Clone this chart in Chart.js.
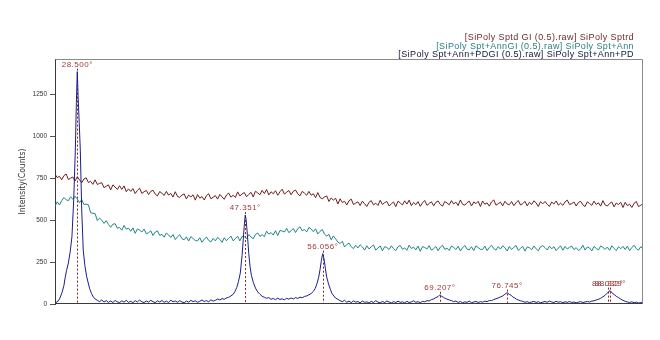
<!DOCTYPE html>
<html>
<head>
<meta charset="utf-8">
<script src="https://cdn.jsdelivr.net/npm/chart.js"></script>
<style>
html, body { margin: 0; padding: 0; background: #fff; }
#wrap { width: 660px; height: 340px; position: relative; }
</style>
</head>
<body>
<div id="wrap"><canvas id="xrdChart"></canvas></div>
<script>
// 2-theta scan grid (degrees), same for both broad scans
const thetaStart = 26
const thetaStep = 0.25

// [SiPoly Sptd GI] counts, 26.00 .. 92.00 deg
const sptdCounts = [
  774, 753, 761, 740,  765, 775, 742, 750,  757, 733, 758, 740,  723, 745, 752, 724,
  731, 713, 740, 712,  719, 723, 693, 702,  710, 680, 710, 697,  682, 705, 683, 704,
  669, 686, 671, 688,  658, 677, 690, 659,  669, 677, 652, 671,  678, 655, 644, 670,
  660, 647, 671, 649,  659, 637, 669, 641,  635, 649, 656, 626,  649, 638, 651, 619,
  652, 631, 640, 620,  646, 657, 627, 636,  646, 625, 653, 638,  624, 650, 661, 637,
  648, 635, 668, 644,  656, 664, 639, 653,  665, 638, 672, 662,  651, 677, 658, 682,
  650, 669, 657, 675,  648, 669, 684, 655,  666, 676, 651, 672,  679, 656, 645, 671,
  661, 648, 671, 648,  657, 634, 664, 635,  627, 638, 644, 611,  632, 619, 630, 596,
  627, 605, 612, 590,  615, 625, 593, 601,  609, 587, 613, 597,  581, 606, 616, 591,
  601, 587, 618, 593,  604, 611, 584, 597,  608, 580, 613, 602,  590, 615, 595, 619,
  586, 605, 592, 610,  582, 603, 617, 588,  599, 609, 585, 606,  614, 593, 583, 611,
  602, 591, 616, 596,  607, 587, 620, 594,  589, 604, 613, 584,  608, 598, 612, 581,
  614, 594, 603, 583,  609, 620, 589, 598,  607, 585, 612, 596,  592, 611, 586, 603,
  617, 590, 598, 612,  585, 606, 593, 615,  603, 581, 610, 597,  611, 594, 582, 608,
  596, 614, 589, 601,  588, 609, 619, 593,  598, 608, 584, 605,  612, 591, 581, 609,
  599, 588, 613, 593,  603, 583, 616, 590,  584, 599, 608, 579,  602, 592, 606, 575,
  606, 586, 595, 575,  600, 611, 580, 589,  597
]

// [SiPoly Spt+AnnGI] counts, 26.00 .. 92.00 deg
const sptAnnCounts = [
  582, 609, 590, 616,  635, 621, 616, 639,  624, 642, 626, 603,  622, 593, 595, 591,
  544, 541, 539, 497,  512, 499, 480, 497,  474, 457, 476, 478,  451, 456, 440, 468,
  446, 452, 433, 454,  421, 447, 440, 429,  447, 418, 425, 436,  408, 428, 436, 409,
  415, 398, 423, 412,  396, 414, 384, 401,  413, 389, 383, 400,  375, 402, 390, 378,
  376, 395, 368, 386,  399, 379, 370, 391,  376, 397, 385, 367,  395, 377, 392, 405,
  376, 390, 404, 376,  403, 401, 389, 414,  399, 389, 414, 423,  403, 413, 401, 434,
  416, 426, 411, 437,  408, 438, 435, 429,  451, 425, 436, 450,  426, 449, 460, 436,
  444, 430, 456, 447,  431, 448, 417, 433,  444, 416, 405, 415,  383, 406, 388, 369,
  360, 374, 340, 354,  363, 341, 330, 350,  334, 353, 340, 321,  347, 328, 341, 352,
  321, 334, 346, 317,  341, 337, 324, 347,  330, 318, 342, 349,  326, 334, 320, 351,
  331, 339, 322, 345,  314, 342, 337, 328,  348, 321, 330, 343,  317, 339, 350, 325,
  333, 319, 346, 338,  324, 344, 316, 335,  349, 327, 323, 341,  318, 347, 336, 326,
  325, 345, 318, 337,  350, 330, 321, 342,  327, 347, 335, 316,  343, 324, 338, 349,
  319, 332, 344, 315,  340, 336, 323, 346,  329, 317, 341, 348,  336, 322, 345, 329,
  342, 318, 333, 347,  320, 343, 328, 338,  345, 324, 336, 319,  328, 350, 321, 340,
  334, 316, 343, 331,  322, 346, 337, 325,  339, 320, 347, 332,  318, 341, 329, 344,
  325, 345, 318, 337,  350, 330, 321, 342,  327
]

// [SiPoly Spt+Ann+PDGI] as [2theta, counts]
const pdPoints = [
  [26.0,6],[26.25,12],[26.5,30],[26.6,42],[26.8,70],[27.0,110],[27.15,160],[27.3,200],[27.5,244],
  [27.7,310],[27.9,400],[28.1,620],[28.28,917],[28.4,1200],[28.5,1385],[28.6,1230],[28.72,1080],
  [28.84,917],[29.0,560],[29.17,321],[29.35,230],[29.55,165],[29.73,125],[29.9,90],[30.1,62],
  [30.3,42],[30.5,30],[30.75,22],[31.0,14],[31.25,24],[31.5,12],[31.75,20],[32.0,10],[32.25,18],
  [32.5,9],[32.75,21],[33.0,13],[33.25,8],[33.5,19],[33.75,11],[34.0,22],[34.25,10],[34.5,16],
  [34.75,8],[35.0,20],[35.25,12],[35.5,24],[35.75,13],[36.0,9],[36.25,18],[36.5,11],[36.75,22],
  [37.0,14],[37.25,8],[37.5,19],[37.75,12],[38.0,21],[38.25,10],[38.5,17],[38.75,9],[39.0,23],
  [39.25,13],[39.5,18],[39.75,10],[40.0,20],[40.25,12],[40.5,8],[40.75,17],[41.0,11],[41.25,22],
  [41.5,14],[41.75,19],[42.0,10],[42.25,16],[42.5,24],[42.75,15],[43.0,20],[43.25,13],[43.5,25],
  [43.75,17],[44.0,22],[44.25,30],[44.5,24],[44.75,32],[45.0,28],[45.25,36],[45.5,40],[45.75,48],
  [46.0,58],[46.2,75],[46.4,98],[46.6,135],[46.8,185],[47.0,290],[47.15,400],[47.25,470],
  [47.35,530],[47.45,505],[47.6,410],[47.75,300],[47.9,220],[48.05,170],[48.25,130],[48.5,95],
  [48.75,72],[49.0,58],[49.25,46],[49.5,40],[49.75,34],[50.0,38],[50.25,28],[50.5,33],[50.75,26],
  [51.0,35],[51.25,27],[51.5,31],[51.75,25],[52.0,34],[52.25,29],[52.5,36],[52.75,30],[53.0,38],
  [53.25,33],[53.5,41],[53.75,37],[54.0,45],[54.25,48],[54.5,55],[54.75,62],[55.0,75],[55.2,92],
  [55.4,120],[55.6,160],[55.75,205],[55.9,260],[56.05,300],[56.2,268],[56.35,210],[56.5,160],
  [56.7,120],[56.9,88],[57.1,62],[57.3,48],[57.5,35],[57.75,28],[58.0,20],[58.25,14],[58.5,22],
  [58.75,10],[59.0,17],[59.25,8],[59.5,19],[59.75,11],[60.0,15],[60.25,7],[60.5,18],[60.75,10],
  [61.0,13],[61.25,6],[61.5,16],[61.75,9],[62.0,20],[62.25,11],[62.5,7],[62.75,15],[63.0,9],
  [63.25,18],[63.5,12],[63.75,6],[64.0,14],[64.25,9],[64.5,17],[64.75,10],[65.0,13],[65.25,7],
  [65.5,16],[65.75,9],[66.0,12],[66.25,19],[66.5,10],[66.75,14],[67.0,8],[67.25,16],[67.5,13],
  [67.75,20],[68.0,18],[68.25,26],[68.5,30],[68.75,38],[69.0,44],[69.2,55],[69.4,46],[69.6,40],
  [69.8,33],[70.0,29],[70.25,24],[70.5,20],[70.75,14],[71.0,18],[71.25,9],[71.5,15],[71.75,7],
  [72.0,13],[72.25,10],[72.5,17],[72.75,8],[73.0,12],[73.25,15],[73.5,9],[73.75,14],[74.0,11],
  [74.25,17],[74.5,14],[74.75,21],[75.0,20],[75.25,27],[75.5,31],[75.75,36],[76.0,42],[76.25,48],
  [76.5,58],[76.75,68],[77.0,57],[77.2,52],[77.4,41],[77.6,36],[77.8,28],[78.0,24],[78.25,19],
  [78.5,16],[78.75,10],[79.0,14],[79.25,8],[79.5,12],[79.75,16],[80.0,9],[80.25,14],[80.5,7],
  [80.75,11],[81.0,15],[81.25,10],[81.5,18],[81.75,12],[82.0,9],[82.25,16],[82.5,11],[82.75,14],
  [83.0,8],[83.25,13],[83.5,10],[83.75,15],[84.0,9],[84.25,12],[84.5,7],[84.75,11],[85.0,14],
  [85.25,9],[85.5,12],[85.75,15],[86.0,12],[86.25,17],[86.5,19],[86.75,24],[87.0,28],[87.25,34],
  [87.5,43],[87.75,52],[88.0,66],[88.15,74],[88.3,80],[88.45,72],[88.6,62],[88.8,55],[89.0,46],
  [89.25,38],[89.5,29],[89.75,22],[90.0,16],[90.25,12],[90.5,9],[90.75,13],[91.0,8],[91.25,11],
  [91.5,6],[91.75,9],[92.0,7]
]

// marked peaks
const peakTheta = [28.5, 47.351, 56.056, 69.207, 76.745, 88.032, 88.329]
const peakCounts = [1385, 530, 300, 55, 68, 80, 80]
const peakLabels = ['28.500°', '47.351°', '56.056°', '69.207°', '76.745°', '88.032°', '88.329°']

const seriesNames = [
  '[SiPoly Sptd GI (0.5).raw] SiPoly Sptrd',
  '[SiPoly Spt+AnnGI (0.5).raw] SiPoly Spt+Ann',
  '[SiPoly Spt+Ann+PDGI (0.5).raw] SiPoly Spt+Ann+PD'
]
const seriesColors = ['#6e1c1c', '#1f8585', '#1c1c8c']
const legendColors = ['#6e2a2a', '#2a8080', '#14143c']

const yTickValues = [0, 250, 500, 750, 1000, 1250]
const yTitle = 'Intensity(Counts)'

const toGrid = (counts) => counts.map((c, i) => ({ x: thetaStart + i * thetaStep, y: c }))

const xrdDecor = {
  id: 'xrdDecor',
  beforeDatasetsDraw(chart) {
    const { ctx, chartArea, scales } = chart
    ctx.save()
    ctx.strokeStyle = '#8b2222'
    ctx.lineWidth = 1
    ctx.setLineDash([2, 2])
    peakTheta.forEach((t, i) => {
      const x = Math.round(scales.x.getPixelForValue(t)) + 0.5
      const y = scales.y.getPixelForValue(peakCounts[i]) - 3
      ctx.beginPath()
      ctx.moveTo(x, y)
      ctx.lineTo(x, chartArea.bottom)
      ctx.stroke()
    })
    ctx.restore()
  },
  afterDatasetsDraw(chart) {
    const { ctx, scales } = chart
    ctx.save()
    ctx.font = '8px "Liberation Sans", Arial, sans-serif'
    ctx.letterSpacing = '0.5px'
    ctx.fillStyle = '#a03a3a'
    ctx.textAlign = 'center'
    ctx.textBaseline = 'alphabetic'
    peakTheta.forEach((t, i) => {
      const x = scales.x.getPixelForValue(t)
      const y = scales.y.getPixelForValue(peakCounts[i]) - 5
      ctx.fillText(peakLabels[i], x, y)
    })
    ctx.restore()
  },
  afterDraw(chart) {
    const { ctx, chartArea } = chart
    const l = chartArea.left + 0.5, r = Math.round(chartArea.right) - 0.5
    const t = chartArea.top + 0.5, b = Math.round(chartArea.bottom) - 0.5
    ctx.save()
    ctx.lineWidth = 1
    ctx.strokeStyle = '#8a8a8a'
    ctx.beginPath()
    ctx.moveTo(l, t); ctx.lineTo(r, t); ctx.lineTo(r, b)
    ctx.stroke()
    ctx.strokeStyle = '#3a3a3a'
    ctx.beginPath()
    ctx.moveTo(l, b); ctx.lineTo(r, b)
    ctx.stroke()
    // legend text, right aligned above the frame
    ctx.font = '9px "Liberation Sans", Arial, sans-serif'
    ctx.letterSpacing = '0.4px'
    ctx.textAlign = 'right'
    ctx.textBaseline = 'alphabetic'
    const lineY = [40, 48.5, 57]
    seriesNames.forEach((name, i) => {
      ctx.fillStyle = legendColors[i]
      ctx.fillText(name, 634, lineY[i])
    })
    ctx.restore()
  }
}

new Chart(document.getElementById('xrdChart'), {
  type: 'line',
  data: {
    datasets: [
      { label: seriesNames[0], data: toGrid(sptdCounts), borderColor: seriesColors[0], order: 3 },
      { label: seriesNames[1], data: toGrid(sptAnnCounts), borderColor: seriesColors[1], order: 2 },
      { label: seriesNames[2], data: pdPoints.map(p => ({ x: p[0], y: p[1] })), borderColor: seriesColors[2], order: 1 }
    ]
  },
  options: {
    responsive: true,
    maintainAspectRatio: false,
    animation: false,
    devicePixelRatio: 1,
    layout: { padding: { left: 14, top: 59, right: 17, bottom: 36 } },
    elements: {
      point: { radius: 0 },
      line: { borderWidth: 1, tension: 0 }
    },
    scales: {
      x: { type: 'linear', min: 26, max: 92, display: false },
      y: {
        min: 0,
        max: 1460,
        afterBuildTicks: (axis) => { axis.ticks = yTickValues.map(v => ({ value: v })) },
        afterFit: (axis) => { axis.width = 41 },
        ticks: {
          padding: 3,
          color: '#333',
          font: { family: '"Liberation Sans", Arial, sans-serif', size: 6.5 },
          callback: (v) => String(v)
        },
        grid: { display: true, drawOnChartArea: false, drawTicks: true, tickLength: 5, color: '#555' },
        border: { display: true, color: '#3a3a3a' },
        title: {
          display: true,
          text: yTitle,
          color: '#333',
          font: { family: '"Liberation Sans Narrow", "DejaVu Sans Condensed", Arial, sans-serif', size: 8.5 }
        }
      }
    },
    plugins: {
      legend: { display: false },
      tooltip: { enabled: false }
    }
  },
  plugins: [xrdDecor]
})
</script>
</body>
</html>
